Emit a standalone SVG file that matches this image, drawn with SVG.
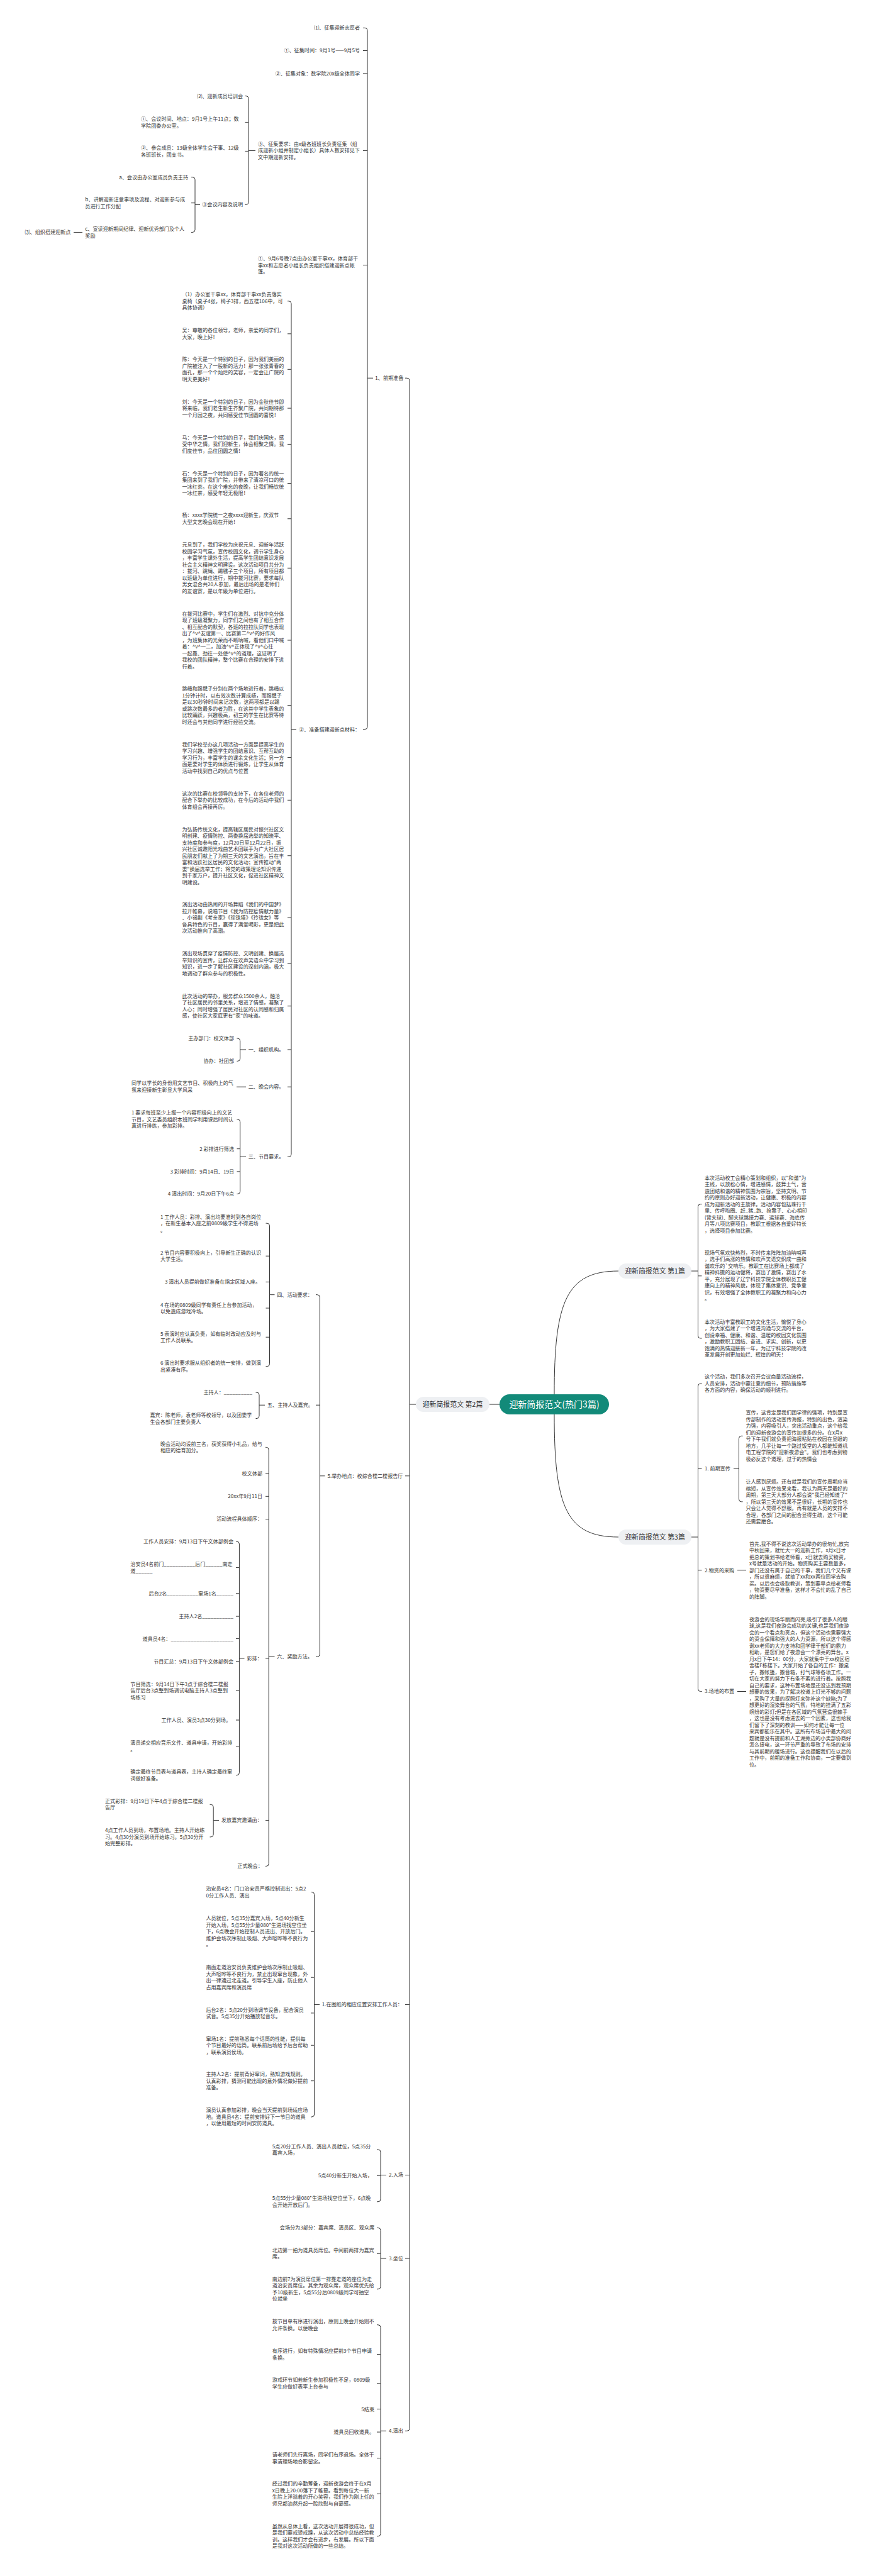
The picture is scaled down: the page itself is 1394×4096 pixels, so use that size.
<svg xmlns="http://www.w3.org/2000/svg" width="1394" height="4096" viewBox="0 0 1394 4096">
<style>
.t{font-family:"Noto Sans CJK SC","Noto Sans",sans-serif;font-size:8.1px;fill:#333}
.e{text-anchor:end}
.c{fill:none;stroke:#333;stroke-width:1}
.b{fill:#eef0f3}
.bt{font-family:"Noto Sans CJK SC","Noto Sans",sans-serif;font-size:10.9px;fill:#333;text-anchor:middle}
.ct{font-family:"Noto Sans CJK SC","Noto Sans",sans-serif;font-size:14px;fill:#fff;text-anchor:middle}
</style>
<rect width="1394" height="4096" fill="#fff"/>
<g id="connectors">
<path class="c" d="M778,2233H794M881,2217C881,2070 900,2021 983,2021M881,2249C881,2396 900,2444 983,2444"/>
<path class="c" d="M644,601.2H647Q651,601.2 651,605.2V3861.3Q651,3865.3 647,3865.3H644M651,2346.8H644M651,3187.5H644M651,3458.5H644M651,3591H644M651,2233H661"/>
<path class="c" d="M577,44.4H580Q584,44.4 584,48.4V1155.6Q584,1159.6 580,1159.6H577M584,80.5H577M584,116.9H577M584,239.4H577M584,421.5H577M584,601.2H593"/>
<path class="c" d="M389.5,152.6H391Q395,152.6 395,156.6V321.4Q395,325.4 391,325.4H389.5M395,194.4H389.5M395,240.4H389.5M395,239.4H406"/>
<path class="c" d="M304,281.7H306Q310,281.7 310,285.7V365.4Q310,369.4 306,369.4H304M310,322.7H304M310,325.4H318"/>
<path class="c" d="M117,369.4H131"/>
<path class="c" d="M457,478.8H459Q463,478.8 463,482.8V1835.3Q463,1839.3 459,1839.3H457M463,530.8H457M463,587.3H457M463,649.1H457M463,706.4H457M463,768.5H457M463,824.8H457M463,903.3H457M463,1018H457M463,1121.7H457M463,1204.6H457M463,1272.3H457M463,1360.7H457M463,1459.1H457M463,1532.2H457M463,1599.7H457M463,1669H457M463,1728.2H457M463,1159.6H471"/>
<path class="c" d="M376.5,1651.1H377.7Q381.7,1651.1 381.7,1655.1V1683.3Q381.7,1687.3 377.7,1687.3H376.5M381.7,1669H391"/>
<path class="c" d="M376,1728.2H391"/>
<path class="c" d="M376.5,1779.9H377.7Q381.7,1779.9 381.7,1783.9V1894.4Q381.7,1898.4 377.7,1898.4H376.5M381.7,1826.7H376.5M381.7,1862.9H376.5M381.7,1839.3H391"/>
<path class="c" d="M502,2058.7H504.3Q508.3,2058.7 508.3,2062.7V2630.2Q508.3,2634.2 504.3,2634.2H502M508.3,2234.2H502M508.3,2346.8H516.5"/>
<path class="c" d="M422.5,1945.1H424.5Q428.5,1945.1 428.5,1949.1V2168.7Q428.5,2172.7 424.5,2172.7H422.5M428.5,1997.2H422.5M428.5,2038.4H422.5M428.5,2080H422.5M428.5,2126.2H422.5M428.5,2058.7H436.5"/>
<path class="c" d="M406.5,2214H408Q412,2214 412,2218V2251.5Q412,2255.5 408,2255.5H406.5M412,2234.2H421"/>
<path class="c" d="M422,2301.3H423.2Q427.2,2301.3 427.2,2305.3V2963.4Q427.2,2967.4 423.2,2967.4H422M427.2,2343H422M427.2,2379.3H422M427.2,2415.5H422M427.2,2636.9H422M427.2,2894.4H422M427.2,2634.2H436.5"/>
<path class="c" d="M375,2451H376.4Q380.4,2451 380.4,2455V2818.7Q380.4,2822.7 376.4,2822.7H375M380.4,2492.6H375M380.4,2533.8H375M380.4,2570.1H375M380.4,2605.6H375M380.4,2641.8H375M380.4,2688.2H375M380.4,2735H375M380.4,2776.5H375M380.4,2636.9H388.5"/>
<path class="c" d="M333.5,2869.3H335.2Q339.2,2869.3 339.2,2873.3V2916.9Q339.2,2920.9 335.2,2920.9H333.5M339.2,2894.4H348"/>
<path class="c" d="M494,3008.5H495.6Q499.6,3008.5 499.6,3012.5V3362Q499.6,3366 495.6,3366H494M499.6,3071.2H494M499.6,3144.2H494M499.6,3200.9H494M499.6,3252.2H494M499.6,3308.7H494M499.6,3187.5H508"/>
<path class="c" d="M599,3418H601Q605,3418 605,3422V3496.8Q605,3500.8 601,3500.8H599M605,3459.2H599M605,3458.5H614"/>
<path class="c" d="M599,3542.4H601Q605,3542.4 605,3546.4V3635.8Q605,3639.8 601,3639.8H599M605,3583.2H599M605,3591H614"/>
<path class="c" d="M599,3696.7H601Q605,3696.7 605,3700.7V4028.7Q605,4032.7 601,4032.7H599M605,3743.6H599M605,3789.7H599M605,3830.6H599M605,3867.1H599M605,3908.6H599M605,3965.3H599M605,3865.3H614"/>
<path class="c" d="M1115.5,1914.7H1113.5Q1109.5,1914.7 1109.5,1918.7V2124Q1109.5,2128 1113.5,2128H1115.5M1109.5,2028.8H1115.5M1109.5,2021H1099"/>
<path class="c" d="M1115.5,2200H1113.5Q1109.5,2200 1109.5,2204V2685.5Q1109.5,2689.5 1113.5,2689.5H1115.5M1109.5,2335H1115.5M1109.5,2496.7H1115.5M1109.5,2444H1099"/>
<path class="c" d="M1180.5,2283.3H1178.5Q1174.5,2283.3 1174.5,2287.3V2383.8Q1174.5,2387.8 1178.5,2387.8H1180.5M1174.5,2335H1166"/>
<path class="c" d="M1172,2496.7H1186M1172,2689.5H1186"/>
</g>
<g id="n-center"><rect x="794" y="2217" width="174" height="32" rx="16" fill="#128a79"/><text class="ct" x="881" y="2238">迎新简报范文(热门3篇)</text></g>
<g id="n-p1"><rect class="b" x="983" y="2009" width="116" height="24" rx="12"/><text class="bt" x="1041" y="2024.9">迎新简报范文 第1篇</text></g>
<g id="n-p2"><rect class="b" x="661" y="2221" width="117" height="24" rx="12"/><text class="bt" x="719.5" y="2236.9">迎新简报范文 第2篇</text></g>
<g id="n-p3"><rect class="b" x="983" y="2432" width="116" height="24" rx="12"/><text class="bt" x="1041" y="2447.9">迎新简报范文 第3篇</text></g>
<g id="n-l1"><text class="t" x="596.3" y="604.1">1、前期准备</text></g>
<g id="n1"><text class="t e" x="572" y="47.3">⑴、征集迎新志愿者</text></g>
<g id="n2"><text class="t e" x="572" y="83.4">①、征集时间：9月1号——9月5号</text></g>
<g id="n3"><text class="t e" x="572" y="119.8">②、征集对象：数学院20x级全体同学</text></g>
<g id="n4"><text class="t" x="410" y="231.9"><tspan>③、征集要求：由x级各班班长负责征集（组</tspan><tspan x="410" dy="10.5">成迎新小组并制定小组长）具体人数安排见下</tspan><tspan x="410" dy="10.5">文中期迎新安排。</tspan></text></g>
<g id="n5"><text class="t" x="410" y="414"><tspan>①、9月6号晚7点由办公室干事xx，体育部干</tspan><tspan x="410" dy="10.5">事xx和志愿者小组长负责组织搭建迎新点帐</tspan><tspan x="410" dy="10.5">篷。</tspan></text></g>
<g id="n6"><text class="t" x="475" y="1162.5">②、准备搭建迎新点材料：</text></g>
<g id="n7"><text class="t e" x="386" y="155.5">⑵、迎新成员培训会</text></g>
<g id="n8"><text class="t" x="224" y="192"><tspan>①、会议时间、地点：9月1号上午11点；数</tspan><tspan x="224" dy="10.5">学院团委办公室。</tspan></text></g>
<g id="n9"><text class="t" x="224" y="238.1"><tspan>②、参会成员：13级全体学生会干事、12级</tspan><tspan x="224" dy="10.5">各班班长，团支书。</tspan></text></g>
<g id="n10"><text class="t e" x="386" y="328.3">③会议内容及说明</text></g>
<g id="n11"><text class="t e" x="299" y="284.6">a、会议由办公室成员负责主持</text></g>
<g id="n12"><text class="t" x="135.3" y="320.3"><tspan>b、讲解迎新注意事项及流程、对迎新参与成</tspan><tspan x="135.3" dy="10.5">员进行工作分配</tspan></text></g>
<g id="n13"><text class="t" x="135.3" y="367.1"><tspan>c、宣读迎新期间纪律、迎新优秀部门及个人</tspan><tspan x="135.3" dy="10.5">奖励</tspan></text></g>
<g id="n14"><text class="t" x="39.5" y="372.3">⑶、组织搭建迎新点</text></g>
<g id="n15"><text class="t" x="289.5" y="471.2"><tspan>（1）办公室干事xx，体育部干事xx负责落实</tspan><tspan x="289.5" dy="10.5">桌椅（桌子4张，椅子3排，西五楼106中，可</tspan><tspan x="289.5" dy="10.5">具体协调）</tspan></text></g>
<g id="n16"><text class="t" x="289.5" y="528.4"><tspan>吴：尊敬的各位领导，老师，亲爱的同学们，</tspan><tspan x="289.5" dy="10.5">大家，晚上好！</tspan></text></g>
<g id="n17"><text class="t" x="289.5" y="574.4"><tspan>陈：今天是一个特别的日子，因为我们美丽的</tspan><tspan x="289.5" dy="10.5">广院被注入了一股新的活力！那一张张青春的</tspan><tspan x="289.5" dy="10.5">面孔，那一个个灿烂的笑容，一定会让广院的</tspan><tspan x="289.5" dy="10.5">明天更美好！</tspan></text></g>
<g id="n18"><text class="t" x="289.5" y="641.5"><tspan>刘：今天是一个特别的日子，因为金秋佳节即</tspan><tspan x="289.5" dy="10.5">将来临，我们老生新生齐聚广院，共同期待那</tspan><tspan x="289.5" dy="10.5">一个月园之夜，共同感受佳节团圆的喜悦！</tspan></text></g>
<g id="n19"><text class="t" x="289.5" y="698.8"><tspan>马：今天是一个特别的日子，我们庆国庆，感</tspan><tspan x="289.5" dy="10.5">受中华之情。我们迎新生，体会相聚之情。我</tspan><tspan x="289.5" dy="10.5">们度佳节，品位团圆之情！</tspan></text></g>
<g id="n20"><text class="t" x="289.5" y="755.6"><tspan>石：今天是一个特别的日子，因为著名的统一</tspan><tspan x="289.5" dy="10.5">集团来到了我们广院，并带来了清凉可口的统</tspan><tspan x="289.5" dy="10.5">一冰红茶。在这个难忘的夜晚，让我们畅饮统</tspan><tspan x="289.5" dy="10.5">一冰红茶，感受年轻无极限！</tspan></text></g>
<g id="n21"><text class="t" x="289.5" y="822.4"><tspan>杨：xxxx学院统一之夜xxxx迎新生，庆双节</tspan><tspan x="289.5" dy="10.5">大型文艺晚会现在开始！</tspan></text></g>
<g id="n22"><text class="t" x="289.5" y="869.4"><tspan>元旦到了，我们学校为庆祝元旦、迎新年活跃</tspan><tspan x="289.5" dy="10.5">校园学习气氛，宣传校园文化，调节学生身心</tspan><tspan x="289.5" dy="10.5">，丰富学生课外生活，提高学生团结意识发展</tspan><tspan x="289.5" dy="10.5">社会主义精神文明建设。这次活动项目共分为</tspan><tspan x="289.5" dy="10.5">：拔河、跳绳、踢毽子三个项目，所有项目都</tspan><tspan x="289.5" dy="10.5">以班级为单位进行，期中拔河比赛，要求每队</tspan><tspan x="289.5" dy="10.5">男女混合共20人参加，最后出场的是老师们</tspan><tspan x="289.5" dy="10.5">的友谊赛，是以年级为单位进行。</tspan></text></g>
<g id="n23"><text class="t" x="289.5" y="978.9"><tspan>在拔河比赛中，学生们在激烈、对抗中充分体</tspan><tspan x="289.5" dy="10.5">现了班级凝聚力，同学们之间也有了相互合作</tspan><tspan x="289.5" dy="10.5">、相互配合的默契，各班的拉拉队同学也表现</tspan><tspan x="289.5" dy="10.5">出了^v^友谊第一、比赛第二^v^的好作风</tspan><tspan x="289.5" dy="10.5">，为班集体的光荣而不断呐喊，看他们口中喊</tspan><tspan x="289.5" dy="10.5">着：^v^一二，加油^v^正体现了^v^心往</tspan><tspan x="289.5" dy="10.5">一起靠、劲往一处使^v^的道理，这证明了</tspan><tspan x="289.5" dy="10.5">我校的团队精神，整个比赛在合理的安排下进</tspan><tspan x="289.5" dy="10.5">行着。</tspan></text></g>
<g id="n24"><text class="t" x="289.5" y="1098.3"><tspan>跳绳和踢毽子分别在两个场地进行着，跳绳以</tspan><tspan x="289.5" dy="10.5">1分钟计时，以有效次数计算成绩，而踢毽子</tspan><tspan x="289.5" dy="10.5">是以30秒钟时间来记次数，这两项都是以踢</tspan><tspan x="289.5" dy="10.5">或跳次数最多的者为胜，在这其中学生表象的</tspan><tspan x="289.5" dy="10.5">比较踊跃，兴趣极高，初三的学生在比赛等待</tspan><tspan x="289.5" dy="10.5">时还会与其他同学进行经验交流。</tspan></text></g>
<g id="n25"><text class="t" x="289.5" y="1186.5"><tspan>我们学校举办这几项活动一方面是提高学生的</tspan><tspan x="289.5" dy="10.5">学习兴趣、增强学生的团结意识、互帮互助的</tspan><tspan x="289.5" dy="10.5">学习行为，丰富学生的课余文化生活；另一方</tspan><tspan x="289.5" dy="10.5">面是要对学生的体质进行锻炼，让学生从体育</tspan><tspan x="289.5" dy="10.5">活动中找到自己的优点与位置</tspan></text></g>
<g id="n26"><text class="t" x="289.5" y="1264.7"><tspan>这次的比赛在校领导的支持下，在各位老师的</tspan><tspan x="289.5" dy="10.5">配合下举办的比较成功，在今后的活动中我们</tspan><tspan x="289.5" dy="10.5">体育组会再接再厉。</tspan></text></g>
<g id="n27"><text class="t" x="289.5" y="1321.6"><tspan>为弘扬传统文化，提高辖区居民对振兴社区文</tspan><tspan x="289.5" dy="10.5">明创建、疫情防控、两委换届选举的知晓率、</tspan><tspan x="289.5" dy="10.5">支持度和参与度，12月20日至12月22日，振</tspan><tspan x="289.5" dy="10.5">兴社区诚邀阳光戏曲艺术团联手为广大社区居</tspan><tspan x="289.5" dy="10.5">民朋友们献上了为期三天的文艺演出，旨在丰</tspan><tspan x="289.5" dy="10.5">富和活跃社区居民的文化活动；宣传推动"两</tspan><tspan x="289.5" dy="10.5">委"换届选举工作；将党的政策理论知识传递</tspan><tspan x="289.5" dy="10.5">到千家万户，提升社区文化，促进社区精神文</tspan><tspan x="289.5" dy="10.5">明建设。</tspan></text></g>
<g id="n28"><text class="t" x="289.5" y="1441"><tspan>演出活动由热闹的开场舞蹈《我们的中国梦》</tspan><tspan x="289.5" dy="10.5">拉开帷幕，说唱节目《我为防控疫情献力量》</tspan><tspan x="289.5" dy="10.5">、小锡剧《考亲家》《珍珠塔》《玲珑女》等</tspan><tspan x="289.5" dy="10.5">各具特色的节目，赢得了满堂喝彩，更是把此</tspan><tspan x="289.5" dy="10.5">次活动推向了高潮。</tspan></text></g>
<g id="n29"><text class="t" x="289.5" y="1519.3"><tspan>演出现场贯穿了疫情防控、文明创建、换届选</tspan><tspan x="289.5" dy="10.5">举知识的宣传，让群众在欢声笑语众中学习到</tspan><tspan x="289.5" dy="10.5">知识，进一步了解社区建设的深刻内涵，极大</tspan><tspan x="289.5" dy="10.5">地调动了群众参与的积极性。</tspan></text></g>
<g id="n30"><text class="t" x="289.5" y="1586.8"><tspan>此次活动的举办，服务群众1500余人，融洽</tspan><tspan x="289.5" dy="10.5">了社区居民的邻里关系，增进了情感，凝聚了</tspan><tspan x="289.5" dy="10.5">人心；同时增强了居民对社区的认同感和归属</tspan><tspan x="289.5" dy="10.5">感，使社区大家庭更有"家"的味道。</tspan></text></g>
<g id="n31"><text class="t" x="394.7" y="1671.9">一、组织机构。</text></g>
<g id="n32"><text class="t" x="394.7" y="1731.1">二、晚会内容。</text></g>
<g id="n33"><text class="t" x="394.7" y="1842.2">三、节目要求。</text></g>
<g id="n34"><text class="t e" x="372" y="1654">主办部门：校文体部</text></g>
<g id="n35"><text class="t e" x="372" y="1690.2">协办：社团部</text></g>
<g id="n36"><text class="t" x="209" y="1725.3"><tspan>同学以学长的身份用文艺节目、积极向上的气</tspan><tspan x="209" dy="10.5">氛来迎接新生彰显大学风采</tspan></text></g>
<g id="n37"><text class="t" x="209" y="1772.3"><tspan>1 要求每班至少上报一个内容积极向上的文艺</tspan><tspan x="209" dy="10.5">节目，文艺委员组织本班同学利用课后时间认</tspan><tspan x="209" dy="10.5">真进行排练，参加彩排。</tspan></text></g>
<g id="n38"><text class="t e" x="372" y="1829.6">2 彩排进行筛选</text></g>
<g id="n39"><text class="t e" x="372" y="1865.8">3 彩排时间：9月14日、19日</text></g>
<g id="n40"><text class="t e" x="372" y="1901.3">4 演出时间：9月20日下午6点</text></g>
<g id="n41"><text class="t" x="520.4" y="2349.7">5.举办地点：校综合楼二楼报告厅</text></g>
<g id="n42"><text class="t" x="440.2" y="2061.6">四、活动要求：</text></g>
<g id="n43"><text class="t" x="425" y="2237.1">五、主持人及嘉宾。</text></g>
<g id="n44"><text class="t" x="440.2" y="2637.1">六、奖励方法。</text></g>
<g id="n45"><text class="t" x="255" y="1937.5"><tspan>1 工作人员：彩排、演出均要准时到各自岗位</tspan><tspan x="255" dy="10.5">，在新生基本入座之前0809级学生不得进场</tspan><tspan x="255" dy="10.5">。</tspan></text></g>
<g id="n46"><text class="t" x="255" y="1994.8"><tspan>2 节目内容要积极向上，引导新生正确的认识</tspan><tspan x="255" dy="10.5">大学生活。</tspan></text></g>
<g id="n47"><text class="t e" x="414" y="2041.3">3 演出人员提前做好准备在指定区域入座。</text></g>
<g id="n48"><text class="t" x="255" y="2077.6"><tspan>4 在场的0809级同学有责任上台参加活动，</tspan><tspan x="255" dy="10.5">以免造成游戏冷场。</tspan></text></g>
<g id="n49"><text class="t" x="255" y="2123.8"><tspan>5 表演时应认真负责，如有临时改动应及时与</tspan><tspan x="255" dy="10.5">工作人员联系。</tspan></text></g>
<g id="n50"><text class="t" x="255" y="2170.3"><tspan>6 演出时要求服从组织者的统一安排，做到演</tspan><tspan x="255" dy="10.5">出紧凑有序。</tspan></text></g>
<g id="n51"><text class="t e" x="401" y="2216.9">主持人：__________</text></g>
<g id="n52"><text class="t" x="238.5" y="2253.1"><tspan>嘉宾：陈老师，袁老师等校领导，以及团委学</tspan><tspan x="238.5" dy="10.5">生会各部门主要负责人</tspan></text></g>
<g id="n53"><text class="t" x="255" y="2298.9"><tspan>晚会活动均设前三名，获奖获得小礼品，给与</tspan><tspan x="255" dy="10.5">相应的德育加分。</tspan></text></g>
<g id="n54"><text class="t e" x="417" y="2345.9">校文体部</text></g>
<g id="n55"><text class="t e" x="417" y="2382.2">20xx年9月11日</text></g>
<g id="n56"><text class="t e" x="417" y="2418.4">活动流程具体顺序：</text></g>
<g id="n57"><text class="t" x="392.5" y="2639.8">彩排：</text></g>
<g id="n58"><text class="t" x="352" y="2897.3">发放嘉宾邀请函：</text></g>
<g id="n59"><text class="t" x="377.3" y="2970.3">正式晚会：</text></g>
<g id="n60"><text class="t e" x="371" y="2453.9">工作人员安排：9月13日下午文体部例会</text></g>
<g id="n61"><text class="t" x="207.3" y="2490.2"><tspan>治安员4名前门___________后门______南走</tspan><tspan x="207.3" dy="10.5">道______</tspan></text></g>
<g id="n62"><text class="t e" x="371" y="2536.7">后台2名___________窜场1名______</text></g>
<g id="n63"><text class="t e" x="371" y="2573">主持人2名___________</text></g>
<g id="n64"><text class="t e" x="371" y="2608.5">道具员4名：______________________</text></g>
<g id="n65"><text class="t e" x="371" y="2644.7">节目汇总：9月13日下午文体部例会</text></g>
<g id="n66"><text class="t" x="207.3" y="2680.6"><tspan>节目筛选：9月14日下午3点于综合楼二楼报</tspan><tspan x="207.3" dy="10.5">告厅后台3点整到场调试电脑主持人3点整到</tspan><tspan x="207.3" dy="10.5">场练习</tspan></text></g>
<g id="n67"><text class="t e" x="367" y="2737.9">工作人员、演员3点30分到场。</text></g>
<g id="n68"><text class="t" x="207.3" y="2774.1"><tspan>演员递交相应音乐文件、道具申请，开始彩排</tspan><tspan x="207.3" dy="10.5">。</tspan></text></g>
<g id="n69"><text class="t" x="207.3" y="2820.3"><tspan>确定最终节目表与道具表，主持人确定最终窜</tspan><tspan x="207.3" dy="10.5">词做好准备。</tspan></text></g>
<g id="n70"><text class="t" x="167" y="2866.9"><tspan>正式彩排：9月19日下午4点于综合楼二楼报</tspan><tspan x="167" dy="10.5">告厅</tspan></text></g>
<g id="n71"><text class="t" x="167" y="2913.3"><tspan>4点工作人员到场，布置场地。主持人开始练</tspan><tspan x="167" dy="10.5">习。4点30分演员到场开始练习。5点30分开</tspan><tspan x="167" dy="10.5">始完整彩排。</tspan></text></g>
<g id="n72"><text class="t" x="511.8" y="3190.4">1.在图纸的相应位置安排工作人员：</text></g>
<g id="n73"><text class="t" x="327.4" y="3006.1"><tspan>治安员4名：门口治安员严格控制进出：5点2</tspan><tspan x="327.4" dy="10.5">0分工作人员、演出</tspan></text></g>
<g id="n74"><text class="t" x="327.4" y="3053.1"><tspan>人员就位，5点35分嘉宾入场，5点40分新生</tspan><tspan x="327.4" dy="10.5">开始入场，5点55分少量080*生进场找空位坐</tspan><tspan x="327.4" dy="10.5">下，6点晚会开始控制人员进出、开放后门。</tspan><tspan x="327.4" dy="10.5">维护会场次序制止吸烟、大声喧哗等不良行为</tspan><tspan x="327.4" dy="10.5">。</tspan></text></g>
<g id="n75"><text class="t" x="327.4" y="3131.3"><tspan>南面走道治安员负责维护会场次序制止吸烟、</tspan><tspan x="327.4" dy="10.5">大声喧哗等不良行为，禁止出现窜台现象，外</tspan><tspan x="327.4" dy="10.5">出一律通过北走道。引导学生入座，防止他人</tspan><tspan x="327.4" dy="10.5">占用嘉宾席和演员席</tspan></text></g>
<g id="n76"><text class="t" x="327.4" y="3198.5"><tspan>后台2名：5点20分到场调节设备，配合演员</tspan><tspan x="327.4" dy="10.5">试音。5点35分开始播放轻音乐。</tspan></text></g>
<g id="n77"><text class="t" x="327.4" y="3244.6"><tspan>窜场1名：提前熟悉每个话筒的性能，提供每</tspan><tspan x="327.4" dy="10.5">个节目最好的话筒。联系前后场给予后台帮助</tspan><tspan x="327.4" dy="10.5">，联系演员侯场。</tspan></text></g>
<g id="n78"><text class="t" x="327.4" y="3301.1"><tspan>主持人2名：提前背好窜词，熟知游戏规则。</tspan><tspan x="327.4" dy="10.5">认真彩排，猜测可能出现的意外情况做好提前</tspan><tspan x="327.4" dy="10.5">准备。</tspan></text></g>
<g id="n79"><text class="t" x="327.4" y="3358.4"><tspan>演员认真参加彩排，晚会当天提前到场适应场</tspan><tspan x="327.4" dy="10.5">地。道具员4名：提前安排好下一节目的道具</tspan><tspan x="327.4" dy="10.5">，以便用最短的时间安防道具。</tspan></text></g>
<g id="n80"><text class="t" x="618" y="3461.4">2.入场</text></g>
<g id="n81"><text class="t" x="432.8" y="3415.6"><tspan>5点20分工作人员、演出人员就位，5点35分</tspan><tspan x="432.8" dy="10.5">嘉宾入场，</tspan></text></g>
<g id="n82"><text class="t e" x="592" y="3462.1">5点40分新生开始入场，</text></g>
<g id="n83"><text class="t" x="432.8" y="3498.4"><tspan>5点55分少量080*生进场找空位坐下，6点晚</tspan><tspan x="432.8" dy="10.5">会开始开放后门。</tspan></text></g>
<g id="n84"><text class="t" x="618" y="3593.9">3.坐位</text></g>
<g id="n85"><text class="t e" x="595" y="3545.3">会场分为3部分：嘉宾席、演员区、观众席</text></g>
<g id="n86"><text class="t" x="432.8" y="3580.8"><tspan>北边第一拍为道具员席位。中间前两排为嘉宾</tspan><tspan x="432.8" dy="10.5">席。</tspan></text></g>
<g id="n87"><text class="t" x="432.8" y="3626.9"><tspan>南边前7为演员席位第一排靠走道的座位为走</tspan><tspan x="432.8" dy="10.5">道治安员席位。其余为观众席，观众席优先给</tspan><tspan x="432.8" dy="10.5">予10级新生，5点55分后0809级同学可抽空</tspan><tspan x="432.8" dy="10.5">位就坐</tspan></text></g>
<g id="n88"><text class="t" x="618" y="3868.2">4.演出</text></g>
<g id="n89"><text class="t" x="432.8" y="3694.3"><tspan>按节目单有序进行演出，原则上晚会开始则不</tspan><tspan x="432.8" dy="10.5">允许条换。以便晚会</tspan></text></g>
<g id="n90"><text class="t" x="432.8" y="3741.2"><tspan>有序进行，如有特殊情况应提前3个节目申请</tspan><tspan x="432.8" dy="10.5">条换。</tspan></text></g>
<g id="n91"><text class="t" x="432.8" y="3787.3"><tspan>游戏环节如若新生参加积极性不足，0809级</tspan><tspan x="432.8" dy="10.5">学生应做好表率上台参与</tspan></text></g>
<g id="n92"><text class="t e" x="595" y="3833.5">5结束</text></g>
<g id="n93"><text class="t e" x="595" y="3870">道具员回收道具。</text></g>
<g id="n94"><text class="t" x="432.8" y="3906.2"><tspan>请老师们先行离场，同学们有序退场。全体干</tspan><tspan x="432.8" dy="10.5">事清理场地合影留念。</tspan></text></g>
<g id="n95"><text class="t" x="432.8" y="3952.4"><tspan>经过我们的辛勤筹备，迎新夜游会终于在x月</tspan><tspan x="432.8" dy="10.5">x日晚上20:00落下了帷幕。看到每位大一新</tspan><tspan x="432.8" dy="10.5">生脸上洋溢着的开心笑容，我们作为刚上任的</tspan><tspan x="432.8" dy="10.5">师兄都油然升起一股欣慰与自豪感。</tspan></text></g>
<g id="n96"><text class="t" x="432.8" y="4019.8"><tspan>虽然从总体上看，这次活动开展得很成功，但</tspan><tspan x="432.8" dy="10.5">是我们要戒骄戒躁，从这次活动中总结经验教</tspan><tspan x="432.8" dy="10.5">训。这样我们才会有进步，有发展。所以下面</tspan><tspan x="432.8" dy="10.5">是我对这次活动所做的一些总结。</tspan></text></g>
<g id="r1"><text class="t" x="1120" y="1875.6"><tspan>本次活动校工会精心策划和组织，以"和谐"为</tspan><tspan x="1120" dy="10.5">主线，以放松心情，增进感情，鼓舞士气，营</tspan><tspan x="1120" dy="10.5">造团结和谐的精神氛围为宗旨，坚持文明、节</tspan><tspan x="1120" dy="10.5">约的原则办好迎新活动，让健康、积极的内容</tspan><tspan x="1120" dy="10.5">成为迎新活动的主旋律。活动内容包括珠行千</tspan><tspan x="1120" dy="10.5">里、传呼啦圈、赶_猪_跑、抢凳子、心心相印</tspan><tspan x="1120" dy="10.5">(背夹球)、脚夹球跳接力赛、运球赛、海底传</tspan><tspan x="1120" dy="10.5">月等八项比赛项目，教职工根据各自爱好特长</tspan><tspan x="1120" dy="10.5">，选择项目参加比赛。</tspan></text></g>
<g id="r2"><text class="t" x="1120" y="1994.9"><tspan>现场气氛欢快热烈，不时传来阵阵加油呐喊声</tspan><tspan x="1120" dy="10.5">，选手们高涨的热情和欢声笑语交织成一曲和</tspan><tspan x="1120" dy="10.5">谐欢乐的`交响乐。教职工在比赛场上都成了</tspan><tspan x="1120" dy="10.5">精神抖擞的运动健将，赛出了激情，赛出了水</tspan><tspan x="1120" dy="10.5">平，充分展现了辽宁科技学院全体教职员工健</tspan><tspan x="1120" dy="10.5">康向上的精神风貌，体现了集体意识、竞争意</tspan><tspan x="1120" dy="10.5">识，有效增强了全体教职工的凝聚力和向心力</tspan><tspan x="1120" dy="10.5">。</tspan></text></g>
<g id="r3"><text class="t" x="1120" y="2104.6"><tspan>本次活动丰富教职工的文化生活，愉悦了身心</tspan><tspan x="1120" dy="10.5">，为大家搭建了一个增进沟通与交流的平台，</tspan><tspan x="1120" dy="10.5">创设幸福、健康、和谐、温暖的校园文化氛围</tspan><tspan x="1120" dy="10.5">，激励教职工团结、奋进、求实、创新，以更</tspan><tspan x="1120" dy="10.5">饱满的热情迎接新一年，为辽宁科技学院的改</tspan><tspan x="1120" dy="10.5">革发展开创更加灿烂、辉煌的明天！</tspan></text></g>
<g id="r4"><text class="t" x="1120" y="2192.4"><tspan>这个活动，我们多次召开会议商量活动流程，</tspan><tspan x="1120" dy="10.5">人员安排，活动中要注意的细节，预防措施等</tspan><tspan x="1120" dy="10.5">各方面的内容，确保活动的顺利进行。</tspan></text></g>
<g id="r5"><text class="t" x="1120" y="2337.9">1. 前期宣传</text></g>
<g id="r6"><text class="t" x="1185.4" y="2249.4"><tspan>宣传，这肯定是我们团学律的强项，特别是宣</tspan><tspan x="1185.4" dy="10.5">传部制作的活动宣传海报，特别的出色，渲染</tspan><tspan x="1185.4" dy="10.5">力强，内容吸引人，突出活动重点，这个给我</tspan><tspan x="1185.4" dy="10.5">们的迎新夜游会的宣传加很多的分。在x月x</tspan><tspan x="1185.4" dy="10.5">号下午我们就负责把海报粘贴在校园在显眼的</tspan><tspan x="1185.4" dy="10.5">地方，几乎让每一个路过饭堂的人都能知道机</tspan><tspan x="1185.4" dy="10.5">电工程学院的"迎新夜游会"。我们也考虑到物</tspan><tspan x="1185.4" dy="10.5">极必反这个道理，过于的热情会</tspan></text></g>
<g id="r7"><text class="t" x="1185.4" y="2359.2"><tspan>让人感到厌烦。还有就是我们的宣传周期应当</tspan><tspan x="1185.4" dy="10.5">缩短，从宣传效果来看，我认为两天是最好的</tspan><tspan x="1185.4" dy="10.5">周期，第三天大部分人都会说"我已经知道了"</tspan><tspan x="1185.4" dy="10.5">，所以第三天的效果不是很好，长期的宣传也</tspan><tspan x="1185.4" dy="10.5">只会让人觉得不舒服。再有就是人员的安排不</tspan><tspan x="1185.4" dy="10.5">合理，各部门之间的配合显得生疏，这个可能</tspan><tspan x="1185.4" dy="10.5">还需要磨合。</tspan></text></g>
<g id="r8"><text class="t" x="1120" y="2499.6">2.物资的采购</text></g>
<g id="r9"><text class="t" x="1191" y="2457.9"><tspan>首先,我不得不说这次活动举办的很匆忙,放完</tspan><tspan x="1191" dy="10.5">中秋回来，就忙大一的迎新工作，x月x日才</tspan><tspan x="1191" dy="10.5">把总的策划书给老师看，x日就去购买物资，</tspan><tspan x="1191" dy="10.5">x号就是活动的开始。物资购买主要数量多，</tspan><tspan x="1191" dy="10.5">部门还没有属于自己的干事，我们几个又有课</tspan><tspan x="1191" dy="10.5">，所以很麻烦，就抽了xx和xx两位同学去购</tspan><tspan x="1191" dy="10.5">买。以后也会吸取教训，策划要早点给老师看</tspan><tspan x="1191" dy="10.5">，物资要尽早准备，这样才不会忙的乱了自己</tspan><tspan x="1191" dy="10.5">的阵脚。</tspan></text></g>
<g id="r10"><text class="t" x="1120" y="2692.4">3.场地的布置</text></g>
<g id="r11"><text class="t" x="1191" y="2577.9"><tspan>夜游会的现场华丽而闪亮,吸引了很多人的眼</tspan><tspan x="1191" dy="10.5">球,这是我们夜游会成功的关键,也是我们夜游</tspan><tspan x="1191" dy="10.5">会的一个看点和亮点，但这个活动也需要强大</tspan><tspan x="1191" dy="10.5">的资金保障和强大的人力资源，所以这个得感</tspan><tspan x="1191" dy="10.5">谢xx老师的大力支持和团学律干部们的鼎力</tspan><tspan x="1191" dy="10.5">相助，是您们给了夜游会一个漂亮的舞台。x</tspan><tspan x="1191" dy="10.5">月x日下午14：00分，大家就集中于xx校区宿</tspan><tspan x="1191" dy="10.5">舍楼F栋楼下。大家开始了各自的工作：搬桌</tspan><tspan x="1191" dy="10.5">子，搬帐篷，搬音箱，打气球等各项工作。一</tspan><tspan x="1191" dy="10.5">切在大家的努力下有条不紊的进行着。按照我</tspan><tspan x="1191" dy="10.5">自己的要求，这种布置场地是还没达到我预期</tspan><tspan x="1191" dy="10.5">想要的效果，为了解决校道上灯光不够的问题</tspan><tspan x="1191" dy="10.5">，采购了大量的探照灯来弥补这个缺陷;为了</tspan><tspan x="1191" dy="10.5">想更好的渲染舞台的气氛，特地的挂满了五彩</tspan><tspan x="1191" dy="10.5">缤纷的彩灯;但是在各区域的气氛营造很棘手</tspan><tspan x="1191" dy="10.5">，这也是没有考虑进去的一个因素，这也给我</tspan><tspan x="1191" dy="10.5">们留下了深刻的教训——如何才能让每一位</tspan><tspan x="1191" dy="10.5">来宾都能乐在其中。这所有布场当中最大的问</tspan><tspan x="1191" dy="10.5">题就是没有提前和人工湖旁边的小卖部协商好</tspan><tspan x="1191" dy="10.5">怎么接电，这一环节严重的导致了布场的安排</tspan><tspan x="1191" dy="10.5">与其前期的暖场进行。这也提醒我们在以后的</tspan><tspan x="1191" dy="10.5">工作中，前期的准备工作和协商，一定要做到</tspan><tspan x="1191" dy="10.5">位。</tspan></text></g>
</svg>
